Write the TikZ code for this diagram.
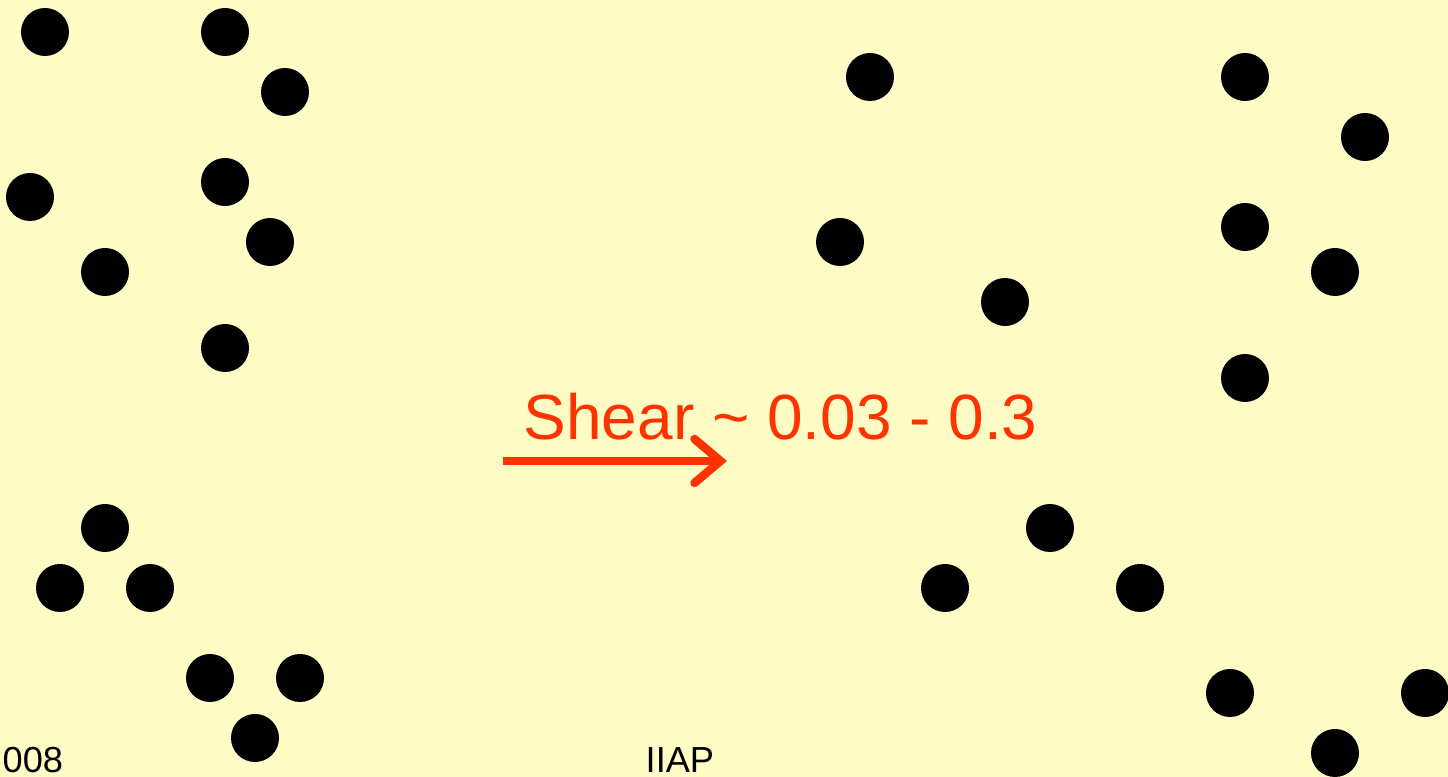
\documentclass[tikz,border=0pt]{standalone}
\usepackage{fontspec}
\setmainfont{Liberation Sans}
\usetikzlibrary{arrows.meta}
\definecolor{slidebg}{RGB}{255,252,198}
\definecolor{shearred}{RGB}{255,51,0}
\begin{document}
\begin{tikzpicture}[
    dot/.style={
      circle, fill=black, minimum size=0.48cm, inner sep=0pt
    },
    label/.style={anchor=base west, inner sep=0pt},
    shear/.style={
      shearred, line width=2.4pt,
      -{Straight Barb[length=2.6mm, width=4.4mm, line cap=round]}
    },
  ]
  % Background
  \fill[slidebg] (0,0) rectangle (14.48,7.77);
  \useasboundingbox (0,0) rectangle (14.48,7.77);

  % Left group, top
  \node[dot] (l1) at (0.45, 7.45) {};
  \node[dot] (l2) at (2.25, 7.45) {};
  \node[dot] (l3) at (2.85, 6.85) {};
  \node[dot] (l4) at (0.30, 5.80) {};
  \node[dot] (l5) at (2.25, 5.95) {};
  \node[dot] (l6) at (2.70, 5.35) {};
  \node[dot] (l7) at (1.05, 5.05) {};
  \node[dot] (l8) at (2.25, 4.29) {};

  % Left group, bottom
  \node[dot] (l9)  at (1.05, 2.49) {};
  \node[dot] (l10) at (0.60, 1.89) {};
  \node[dot] (l11) at (1.50, 1.89) {};
  \node[dot] (l12) at (2.10, 0.99) {};
  \node[dot] (l13) at (3.00, 0.99) {};
  \node[dot] (l14) at (2.55, 0.39) {};

  % Right group, top
  \node[dot] (r1) at (8.70, 7.00) {};
  \node[dot] (r2) at (12.45, 7.00) {};
  \node[dot] (r3) at (13.65, 6.40) {};
  \node[dot] (r4) at (8.40, 5.35) {};
  \node[dot] (r5) at (12.45, 5.50) {};
  \node[dot] (r6) at (13.35, 5.05) {};
  \node[dot] (r7) at (10.05, 4.75) {};
  \node[dot] (r8) at (12.45, 3.99) {};

  % Right group, bottom
  \node[dot] (r9)  at (10.50, 2.49) {};
  \node[dot] (r10) at (9.45, 1.89) {};
  \node[dot] (r11) at (11.40, 1.89) {};
  \node[dot] (r12) at (12.30, 0.84) {};
  \node[dot] (r13) at (14.25, 0.84) {};
  \node[dot] (r14) at (13.35, 0.24) {};

  % Shear label and arrow
  \node[label, shearred, font=\fontsize{18.2}{22}\selectfont] (sheartext) at (5.23, 3.37) {Shear \textasciitilde\ 0.03 - 0.3};
  \coordinate (shearfrom) at (5.03, 3.16);
  \coordinate (shearto) at (7.27, 3.16);
  \draw[shear] (shearfrom) -- (shearto);

  % Footer
  \node[label, font=\fontsize{10.3}{12}\selectfont] (footyear) at (0.02, 0.04) {008};
  \node[label, font=\fontsize{10.3}{12}\selectfont] (footinst) at (6.45, 0.04) {IIAP};
\end{tikzpicture}
\end{document}
